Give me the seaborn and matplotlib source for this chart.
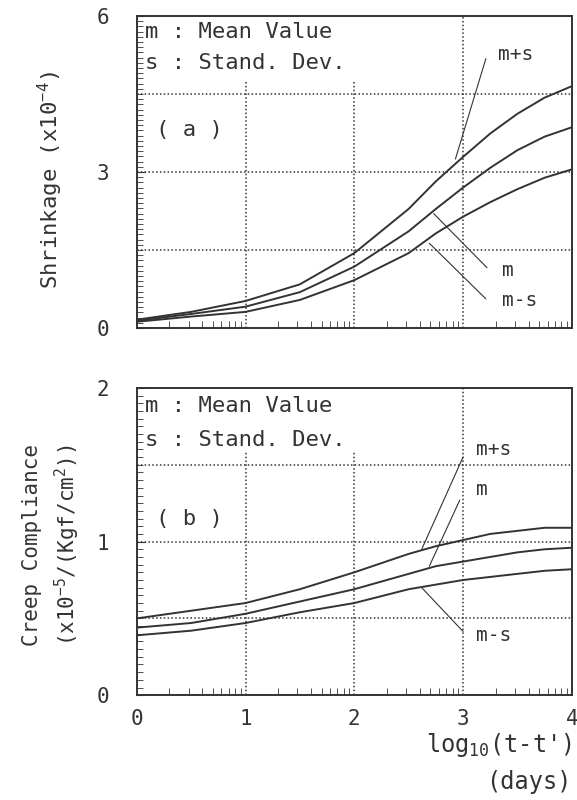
import numpy as np
import pandas as pd
import matplotlib
matplotlib.use("Agg")
import matplotlib.pyplot as plt
import seaborn as sns

# values (x = log10(t-t') in days)
log_days = [0, 0.5, 1, 1.5, 2, 2.5, 2.75, 3, 3.25, 3.5, 3.75, 4]

shrink_m_plus_s = [0.16, 0.31, 0.52, 0.84, 1.44, 2.29, 2.82, 3.29, 3.74, 4.12, 4.43, 4.65]
shrink_m = [0.14, 0.27, 0.41, 0.69, 1.18, 1.86, 2.29, 2.70, 3.08, 3.42, 3.68, 3.86]
shrink_m_minus_s = [0.12, 0.22, 0.31, 0.54, 0.92, 1.44, 1.82, 2.14, 2.42, 2.67, 2.89, 3.05]

creep_m_plus_s = [0.50, 0.55, 0.60, 0.69, 0.80, 0.92, 0.97, 1.01, 1.05, 1.07, 1.09, 1.09]
creep_m = [0.44, 0.47, 0.53, 0.61, 0.69, 0.79, 0.84, 0.87, 0.90, 0.93, 0.95, 0.96]
creep_m_minus_s = [0.39, 0.42, 0.47, 0.54, 0.60, 0.69, 0.72, 0.75, 0.77, 0.79, 0.81, 0.82]

series_names = ["m+s", "m", "m-s"]
x_ticks = [0, 1, 2, 3, 4]

# callout lines: (x0, y0, x1, y1) and label positions
callouts_a = {"m+s": ((2.93, 3.25, 3.21, 5.18), (3.32, 5.25)),
              "m": ((2.73, 2.20, 3.22, 1.16), (3.36, 1.10)),
              "m-s": ((2.69, 1.63, 3.21, 0.56), (3.36, 0.52))}
callouts_b = {"m+s": ((2.62, 0.95, 3.00, 1.55), (3.12, 1.60)),
              "m": ((2.69, 0.84, 2.97, 1.27), (3.12, 1.34)),
              "m-s": ((2.62, 0.70, 3.00, 0.415), (3.12, 0.39))}

sns.set_style("ticks")
plt.rcParams['font.family'] = ['DejaVu Sans Mono', 'DejaVu Sans']
plt.rcParams['mathtext.fontset'] = 'custom'
plt.rcParams['mathtext.rm'] = 'DejaVu Sans Mono'
plt.rcParams['mathtext.it'] = 'DejaVu Sans Mono'

ink = "#333333"
fs = 14

fig = plt.figure(figsize=(5.77, 8), dpi=100)
ax_a = fig.add_axes([0.237, 0.59, 0.754, 0.39])
ax_b = fig.add_axes([0.237, 0.131, 0.754, 0.384])

shrink_df = pd.DataFrame({"x": log_days * 3,
                          "y": shrink_m_plus_s + shrink_m + shrink_m_minus_s,
                          "s": [n for n in series_names for _ in log_days]})
creep_df = pd.DataFrame({"x": log_days * 3,
                         "y": creep_m_plus_s + creep_m + creep_m_minus_s,
                         "s": [n for n in series_names for _ in log_days]})


def style_panel(ax, df, ymax, ystep, yminor, hgrid, vtop, callouts, tag, tag_y, leg_y):
    sns.lineplot(data=df, x="x", y="y", hue="s", units="s", estimator=None,
                 palette=[ink] * 3, linewidth=1.4, legend=False, ax=ax)
    ax.set_xlim(0, 4)
    ax.set_ylim(0, ymax)
    ax.set_xlabel("")
    ax.set_ylabel("")
    # dotted grid
    for h in hgrid:
        ax.axhline(h, color=ink, linestyle=(0, (1, 1.5)), linewidth=1.1, zorder=0)
    for v in [1, 2]:
        ax.plot([v, v], [0, vtop], color=ink, linestyle=(0, (1, 1.5)), linewidth=1.1, zorder=0)
    ax.axvline(3, color=ink, linestyle=(0, (1, 1.5)), linewidth=1.1, zorder=0)
    # ticks
    ax.set_yticks(np.arange(0, ymax + 1e-9, ystep))
    ax.set_yticks(np.arange(0, ymax + 1e-9, yminor), minor=True)
    ax.set_xticks(x_ticks)
    minor_x = [d + np.log10(k) for d in range(4) for k in range(2, 10)]
    ax.set_xticks(minor_x, minor=True)
    ax.tick_params(axis="both", which="both", direction="in", colors=ink,
                   labelcolor=ink, labelsize=fs + 1)
    ax.tick_params(axis="y", which="major", length=6, pad=20)
    ax.tick_params(axis="y", which="minor", length=4)
    ax.tick_params(axis="x", which="major", length=0, pad=10)
    ax.tick_params(axis="x", which="minor", length=5)
    for sp in ax.spines.values():
        sp.set_color(ink)
        sp.set_linewidth(1.4)
    # callouts
    for name, ((x0, y0, x1, y1), (lx, ly)) in callouts.items():
        ax.plot([x0, x1], [y0, y1], color=ink, linewidth=0.8)
        ax.text(lx, ly, name, fontsize=fs, color=ink, va="center", ha="left")
    ax.text(0.08, leg_y[0], "m : Mean Value", fontsize=fs + 2, color=ink, va="center")
    ax.text(0.08, leg_y[1], "s : Stand. Dev.", fontsize=fs + 2, color=ink, va="center")
    ax.text(0.18, tag_y, "( " + tag + " )", fontsize=fs + 2, color=ink, va="center")


style_panel(ax_a, shrink_df, 6, 3, 0.1, [1.5, 3, 4.5], 4.75, callouts_a,
            "a", 3.8, (5.7, 5.1))
style_panel(ax_b, creep_df, 2, 1, 0.05, [0.5, 1, 1.5], 1.585, callouts_b,
            "b", 1.15, (1.88, 1.66))
ax_a.tick_params(axis="x", which="both", labelbottom=False)

fig.text(50 / 577, 1 - 180 / 800, "Shrinkage (x10$^{-4}$)", rotation=90,
         ha="center", va="center", fontsize=fs + 2, color=ink)
fig.text(52 / 577, 1 - 545 / 800, "Creep Compliance\n(x10$^{-5}$/(Kgf/cm$^{2}$))",
         rotation=90, ha="center", va="center", fontsize=fs + 1, color=ink,
         linespacing=1.5)
fig.text(572 / 577, 1 - 745 / 800, "log$_{10}$(t-t')", ha="right", va="center",
         fontsize=fs + 3, color=ink)
fig.text(572 / 577, 1 - 782 / 800, "(days)", ha="right", va="center",
         fontsize=fs + 3, color=ink)

fig.savefig("out.png", dpi=100, facecolor="white")
